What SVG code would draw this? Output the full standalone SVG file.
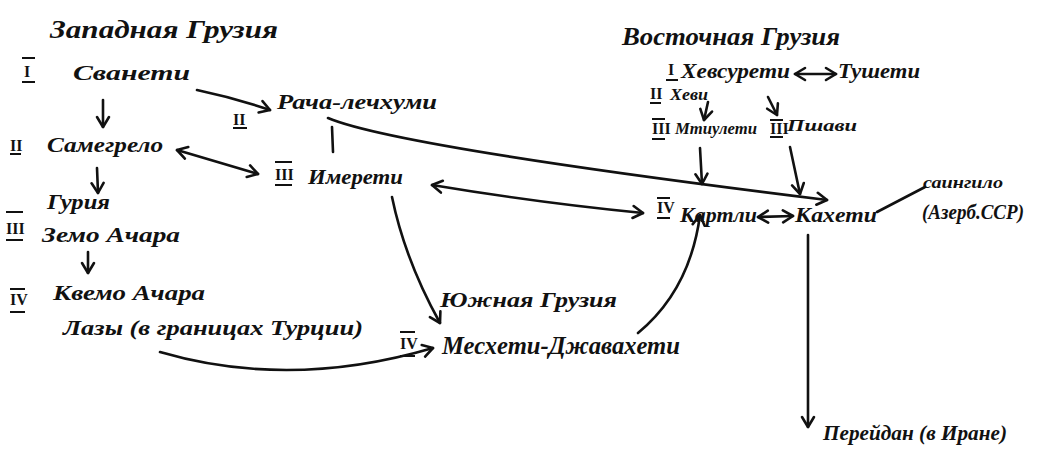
<svg xmlns="http://www.w3.org/2000/svg" width="1037" height="458" viewBox="0 0 1037 458">
<defs>
<style>
.t{font-family:"Liberation Serif","DejaVu Serif",serif;font-style:italic;font-weight:bold;font-size:22px;fill:#111;}
.h{font-size:25px;}
.m{font-size:20px;}
.s{font-size:17px;}
.n{font-family:"Liberation Serif","DejaVu Serif",serif;font-weight:bold;font-size:16px;fill:#111;}
.b{stroke:#111;stroke-width:2;}
.c{fill:none;stroke:#111;stroke-width:2.6;stroke-linecap:round;}
</style>
<marker id="ah" viewBox="-12 -8 14 16" markerWidth="14" markerHeight="16" refX="0" refY="0" orient="auto-start-reverse" markerUnits="userSpaceOnUse">
<path d="M-10,-6 L0,0 L-10,6" fill="none" stroke="#111" stroke-width="2.6" stroke-linecap="round" stroke-linejoin="round"/>
</marker>
</defs>
<rect width="1037" height="458" fill="#fff"/>

<g id="connectors">
<path class="c" d="M197,90 Q235,98 270,110" marker-end="url(#ah)"/>
<path class="c" d="M103,100 L103,127" marker-end="url(#ah)"/>
<path class="c" d="M177,150 L258,174" marker-start="url(#ah)" marker-end="url(#ah)"/>
<path class="c" d="M97,168 L98,193" marker-end="url(#ah)"/>
<path class="c" d="M88,252 L88,273" marker-end="url(#ah)"/>
<path class="c" d="M332,127 L333,152"/>
<path class="c" d="M328,118 C380,140 600,172 827,200" marker-end="url(#ah)"/>
<path class="c" d="M432,185 Q540,203 643,213" marker-start="url(#ah)" marker-end="url(#ah)"/>
<path class="c" d="M392,197 Q405,260 440,323" marker-end="url(#ah)"/>
<path class="c" d="M160,352 Q290,390 433,348" marker-end="url(#ah)"/>
<path class="c" d="M638,333 Q690,290 700,215" marker-end="url(#ah)"/>
<path class="c" d="M700,148 L702,184" marker-end="url(#ah)"/>
<path class="c" d="M790,147 L800,194" marker-end="url(#ah)"/>
<path class="c" d="M708,102 L704,120" marker-end="url(#ah)"/>
<path class="c" d="M768,97 L777,115" marker-end="url(#ah)"/>
<path class="c" d="M795,74 L836,74" marker-start="url(#ah)" marker-end="url(#ah)"/>
<path class="c" d="M758,217 L793,216" marker-start="url(#ah)" marker-end="url(#ah)"/>
<path class="c" d="M877,212 L925,187"/>
<path class="c" d="M808,235 L808,427" marker-end="url(#ah)"/>
</g>

<g id="title-west"><text class="t h" x="50" y="38" textLength="228" lengthAdjust="spacingAndGlyphs">Западная Грузия</text></g>

<g id="svaneti">
<line class="b" x1="22" y1="58" x2="35" y2="58"/><text class="n" x="24" y="77">I</text><line class="b" x1="22" y1="82" x2="35" y2="82"/>
<text class="t" x="73" y="80" textLength="117" lengthAdjust="spacingAndGlyphs">Сванети</text>
</g>

<g id="racha">
<text class="n" x="233" y="125">II</text><line class="b" x1="233" y1="128" x2="247" y2="128"/>
<text class="t" x="277" y="109" textLength="160" lengthAdjust="spacingAndGlyphs">Рача-лечхуми</text>
</g>

<g id="samegrelo">
<text class="n" x="10" y="151">II</text><line class="b" x1="10" y1="154" x2="21" y2="154"/>
<text class="t" x="47" y="152" textLength="116" lengthAdjust="spacingAndGlyphs">Самегрело</text>
</g>

<g id="imereti">
<line class="b" x1="275" y1="162" x2="292" y2="162"/><text class="n" x="275" y="180">III</text><line class="b" x1="275" y1="185" x2="292" y2="185"/>
<text class="t" x="308" y="184" textLength="95" lengthAdjust="spacingAndGlyphs">Имерети</text>
</g>

<g id="guria"><text class="t" x="47" y="209" textLength="63" lengthAdjust="spacingAndGlyphs">Гурия</text></g>

<g id="zemo-achara">
<line class="b" x1="6" y1="212" x2="23" y2="212"/><text class="n" x="6" y="234">III</text><line class="b" x1="6" y1="240" x2="23" y2="240"/>
<text class="t" x="42" y="242" textLength="138" lengthAdjust="spacingAndGlyphs">Земо Ачара</text>
</g>

<g id="kvemo-achara">
<line class="b" x1="10" y1="289" x2="25" y2="289"/><text class="n" x="10" y="305">IV</text><line class="b" x1="10" y1="312" x2="25" y2="312"/>
<text class="t" x="53" y="300" textLength="152" lengthAdjust="spacingAndGlyphs">Квемо Ачара</text>
</g>

<g id="lazy"><text class="t" x="63" y="335" textLength="300" lengthAdjust="spacingAndGlyphs">Лазы (в границах Турции)</text></g>

<g id="title-south"><text class="t" x="440" y="307" textLength="177" lengthAdjust="spacingAndGlyphs">Южная Грузия</text></g>

<g id="meskheti">
<line class="b" x1="400" y1="332" x2="415" y2="332"/><text class="n" x="400" y="349">IV</text><line class="b" x1="400" y1="356" x2="415" y2="356"/>
<text class="t h" x="442" y="354" textLength="238" lengthAdjust="spacingAndGlyphs">Месхети-Джавахети</text>
</g>

<g id="title-east"><text class="t h" x="622" y="45" textLength="218" lengthAdjust="spacingAndGlyphs">Восточная Грузия</text></g>

<g id="khevsureti">
<text class="n" x="668" y="75">I</text><line class="b" x1="666" y1="80" x2="678" y2="80"/>
<text class="t m" x="681" y="78" textLength="109" lengthAdjust="spacingAndGlyphs">Хевсурети</text>
</g>

<g id="tusheti"><text class="t m" x="838" y="78" textLength="82" lengthAdjust="spacingAndGlyphs">Тушети</text></g>

<g id="khevi">
<text class="n" x="650" y="99">II</text><line class="b" x1="650" y1="103" x2="661" y2="103"/>
<text class="t s" x="670" y="100" textLength="38" lengthAdjust="spacingAndGlyphs">Хеви</text>
</g>

<g id="mtiuleti">
<line class="b" x1="652" y1="119" x2="665" y2="119"/><text class="n" x="652" y="134">III</text><line class="b" x1="652" y1="139" x2="665" y2="139"/>
<text class="t s" x="675" y="134" textLength="82" lengthAdjust="spacingAndGlyphs">Мтиулети</text>
</g>

<g id="pshavi">
<line class="b" x1="770" y1="120" x2="783" y2="120"/><text class="n" x="770" y="134">III</text><line class="b" x1="770" y1="137" x2="783" y2="137"/>
<text class="t s" x="787" y="131" textLength="70" lengthAdjust="spacingAndGlyphs">Пшави</text>
</g>

<g id="kartli">
<line class="b" x1="657" y1="198" x2="670" y2="198"/><text class="n" x="657" y="213">IV</text><line class="b" x1="657" y1="218" x2="670" y2="218"/>
<text class="t" x="680" y="222" textLength="77" lengthAdjust="spacingAndGlyphs">Картли</text>
</g>

<g id="kakheti"><text class="t" x="795" y="222" textLength="82" lengthAdjust="spacingAndGlyphs">Кахети</text></g>

<g id="saingilo">
<text class="t s" x="923" y="188" textLength="80" lengthAdjust="spacingAndGlyphs">саингило</text>
<text class="t m" x="922" y="219" textLength="102" lengthAdjust="spacingAndGlyphs">(Азерб.ССР)</text>
</g>

<g id="fereydan"><text class="t" x="823" y="440" textLength="184" lengthAdjust="spacingAndGlyphs">Перейдан (в Иране)</text></g>
</svg>
